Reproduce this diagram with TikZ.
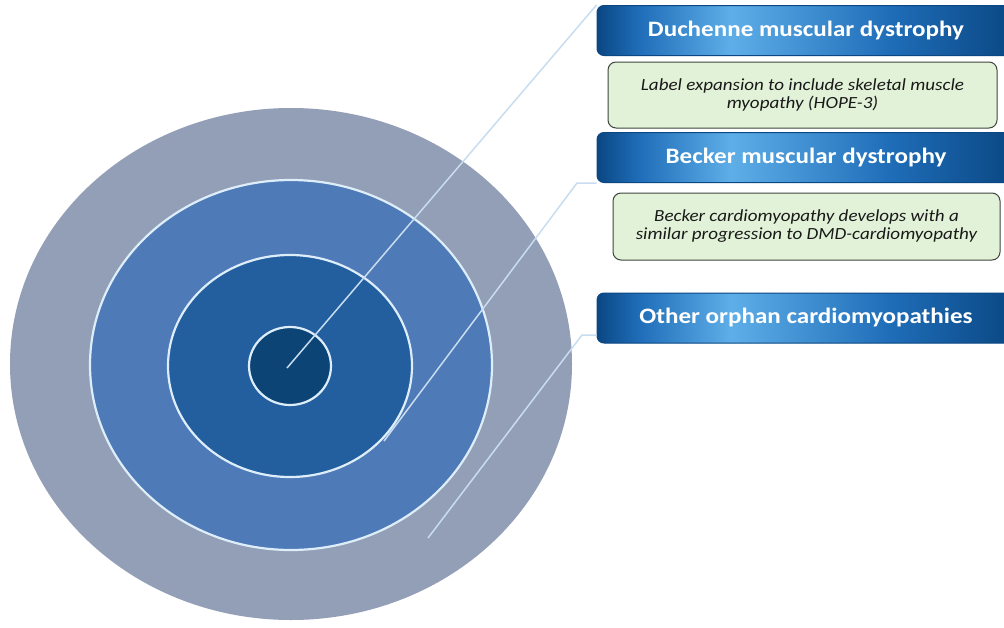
\documentclass[tikz,border=0pt]{standalone}
\usepackage{fontspec}
\setmainfont{Carlito}
\newfontfamily\headfont[FakeStretch=1.14]{Carlito}
\newfontfamily\notefont[FakeStretch=1.12]{Carlito}
\usetikzlibrary{positioning}
\definecolor{ringouter}{HTML}{929FB6}
\definecolor{ringsecond}{HTML}{4E7AB8}
\definecolor{ringthird}{HTML}{235F9F}
\definecolor{ringcore}{HTML}{0C4476}
\definecolor{ringedge}{HTML}{DDEEFA}
\definecolor{leadline}{HTML}{C8DDF0}
\definecolor{headdark}{HTML}{0A4783}
\definecolor{headmid}{HTML}{1F6DB8}
\definecolor{headlight}{HTML}{5EAEE8}
\definecolor{notefill}{HTML}{E2F2D8}
\definecolor{noteedge}{HTML}{3E463E}
\pgfdeclarehorizontalshading{headshade}{100bp}{color(0bp)=(headdark); color(25bp)=(headdark); color(30bp)=(headmid); color(41bp)=(headlight); color(60bp)=(headmid); color(75bp)=(headdark); color(100bp)=(headdark)}

\begin{document}
\begin{tikzpicture}[x=1pt, y=-1pt,
  ring/.style={draw=ringedge, line width=2.2pt},
  head/.style={shading=headshade, draw=headdark, rounded corners=7pt, line width=1pt,
    minimum width=418pt, minimum height=50pt, inner sep=0pt,
    text=white, font=\headfont\fontsize{22}{24}\selectfont\bfseries},
  note/.style={fill=notefill, draw=noteedge, rounded corners=8pt, line width=1pt,
    inner sep=0pt, align=center, text=black!90,
    font=\notefont\fontsize{17}{18}\selectfont\itshape},
  leader/.style={draw=leadline, line width=1.5pt}]
  % Page frame
  \clip (0,0) rectangle (1004,627);
  \fill[white] (0,0) rectangle (1004,627);
  % Concentric rings
  \fill[ringouter] (291,364) ellipse [x radius=281, y radius=256];
  \filldraw[ring, fill=ringsecond] (291,365) ellipse [x radius=201, y radius=185];
  \filldraw[ring, fill=ringthird] (290,366) ellipse [x radius=122, y radius=111];
  \filldraw[ring, fill=ringcore] (290,366) ellipse [x radius=41, y radius=39];
  % Headings
  \node[head] (duchenne) at (806,30.5) {Duchenne muscular dystrophy};
  \node[head] (becker) at (806,157.5) {Becker muscular dystrophy};
  \node[head] (other) at (806,318) {Other orphan cardiomyopathies};
  % Notes
  \node[note, minimum width=389pt, minimum height=66pt] (duchennenote) at (802.5,95)
    {Label expansion to include skeletal muscle\\myopathy (HOPE-3)};
  \node[note, minimum width=387pt, minimum height=67pt] (beckernote) at (806.5,226.5)
    {Becker cardiomyopathy develops with a\\similar progression to DMD-cardiomyopathy};
  % Leader lines
  \coordinate (coreend) at (287,368);
  \coordinate (thirdend) at (384,441);
  \coordinate (beckerknee) at (577,183);
  \coordinate (secondend) at (428,538);
  \coordinate (otherknee) at (582,335);
  \draw[leader] (coreend) -- (duchenne.north west);
  \draw[leader] (thirdend) -- (beckerknee) -- (becker.south west);
  \draw[leader] (secondend) -- (otherknee) -- (other.west |- otherknee);
\end{tikzpicture}
\end{document}
